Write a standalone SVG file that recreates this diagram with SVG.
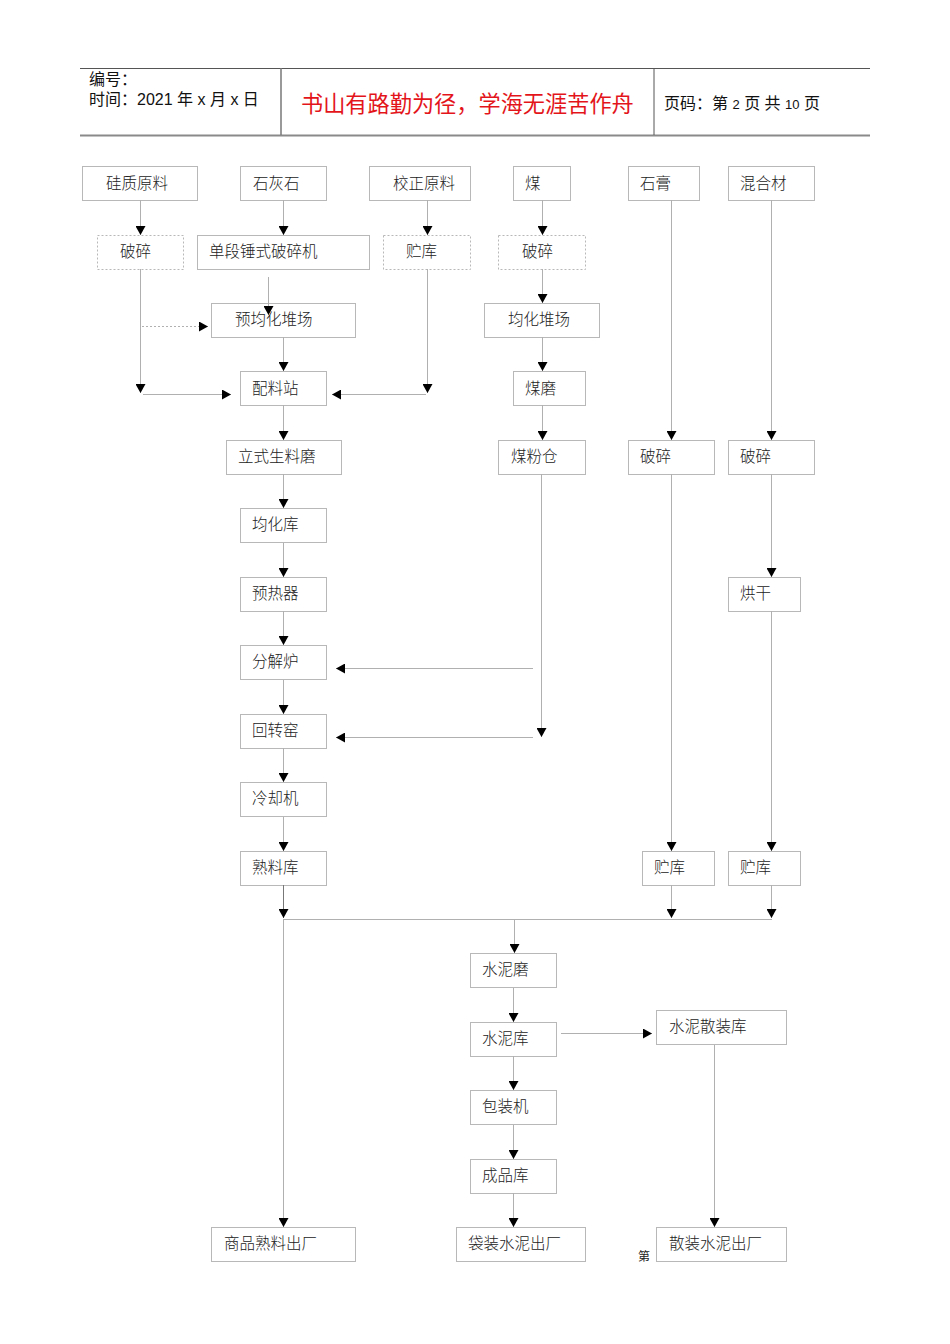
<svg xmlns="http://www.w3.org/2000/svg" width="950" height="1344" viewBox="0 0 950 1344">
<style>
.box{fill:none;stroke:#b8b8b8;stroke-width:1}
.dbox{fill:none;stroke:#b8b8b8;stroke-width:1;stroke-dasharray:2 2}
.lbl{font-family:"Noto Sans CJK SC",sans-serif;font-size:15.5px;font-weight:300;fill:#222}
.ln{stroke:#b0b0b0;stroke-width:1;fill:none}
.dl{stroke:#b0b0b0;stroke-width:1;fill:none;stroke-dasharray:2 2}
.hd{font-family:"Liberation Sans","Noto Sans CJK SC",sans-serif;font-size:16px;fill:#111}
</style>
<defs>
<marker id="ah" viewBox="0 0 9 10" markerWidth="9" markerHeight="10" refX="9" refY="5" orient="auto" markerUnits="userSpaceOnUse">
<path d="M0,0 L9,5 L0,10 z" fill="#000"/>
</marker>
</defs>
<rect width="950" height="1344" fill="#fff"/>
<g id="header">
<line x1="80" y1="68.5" x2="870" y2="68.5" stroke="#555" stroke-width="1"/>
<line x1="80" y1="135.5" x2="870" y2="135.5" stroke="#8a8a8a" stroke-width="2"/>
<line x1="281" y1="68" x2="281" y2="135" stroke="#777" stroke-width="1.5"/>
<line x1="654" y1="68" x2="654" y2="135" stroke="#555" stroke-width="1"/>
<text class="hd" x="89" y="85">编号：</text>
<text class="hd" x="89" y="105">时间：2021 年 x 月 x 日</text>
<text x="301" y="112" font-family="Noto Sans CJK SC,sans-serif" font-size="22.2px" fill="#e3151b">书山有路勤为径，学海无涯苦作舟</text>
<text class="hd" x="664" y="109" font-size="15px">页码：第 <tspan font-size="13px">2</tspan> 页  共 <tspan font-size="13px">10</tspan> 页</text>
</g>
<g id="n1"><rect class="box" x="82.5" y="166.5" width="115" height="34"/><text class="lbl" x="106" y="189">硅质原料</text></g>
<g id="n2"><rect class="box" x="240.5" y="166.5" width="86" height="34"/><text class="lbl" x="253" y="189">石灰石</text></g>
<g id="n3"><rect class="box" x="369.5" y="166.5" width="101" height="34"/><text class="lbl" x="393" y="189">校正原料</text></g>
<g id="n4"><rect class="box" x="513.5" y="166.5" width="57" height="34"/><text class="lbl" x="525" y="189">煤</text></g>
<g id="n5"><rect class="box" x="628.5" y="166.5" width="71" height="34"/><text class="lbl" x="640" y="189">石膏</text></g>
<g id="n6"><rect class="box" x="728.5" y="166.5" width="86" height="34"/><text class="lbl" x="740" y="189">混合材</text></g>
<g id="n7"><rect class="dbox" x="97.5" y="235.5" width="86" height="34"/><text class="lbl" x="120" y="257">破碎</text></g>
<g id="n8"><rect class="box" x="197.5" y="235.5" width="172" height="34"/><text class="lbl" x="209" y="257">单段锤式破碎机</text></g>
<g id="n9"><rect class="dbox" x="383.5" y="235.5" width="87" height="34"/><text class="lbl" x="406" y="257">贮库</text></g>
<g id="n10"><rect class="dbox" x="498.5" y="235.5" width="87" height="34"/><text class="lbl" x="522" y="257">破碎</text></g>
<g id="n11"><rect class="box" x="211.5" y="303.5" width="144" height="34"/><text class="lbl" x="235" y="325">预均化堆场</text></g>
<g id="n12"><rect class="box" x="484.5" y="303.5" width="115" height="34"/><text class="lbl" x="508" y="325">均化堆场</text></g>
<g id="n13"><rect class="box" x="240.5" y="371.5" width="86" height="34"/><text class="lbl" x="252" y="394">配料站</text></g>
<g id="n14"><rect class="box" x="513.5" y="371.5" width="72" height="34"/><text class="lbl" x="525" y="394">煤磨</text></g>
<g id="n15"><rect class="box" x="226.5" y="440.5" width="115" height="34"/><text class="lbl" x="238" y="462">立式生料磨</text></g>
<g id="n16"><rect class="box" x="498.5" y="440.5" width="87" height="34"/><text class="lbl" x="511" y="462">煤粉仓</text></g>
<g id="n17"><rect class="box" x="628.5" y="440.5" width="86" height="34"/><text class="lbl" x="640" y="462">破碎</text></g>
<g id="n18"><rect class="box" x="728.5" y="440.5" width="86" height="34"/><text class="lbl" x="740" y="462">破碎</text></g>
<g id="n19"><rect class="box" x="240.5" y="508.5" width="86" height="34"/><text class="lbl" x="252" y="530">均化库</text></g>
<g id="n20"><rect class="box" x="240.5" y="577.5" width="86" height="34"/><text class="lbl" x="252" y="599">预热器</text></g>
<g id="n21"><rect class="box" x="728.5" y="577.5" width="72" height="34"/><text class="lbl" x="740" y="599">烘干</text></g>
<g id="n22"><rect class="box" x="240.5" y="645.5" width="86" height="34"/><text class="lbl" x="252" y="667">分解炉</text></g>
<g id="n23"><rect class="box" x="240.5" y="714.5" width="86" height="34"/><text class="lbl" x="252" y="736">回转窑</text></g>
<g id="n24"><rect class="box" x="240.5" y="782.5" width="86" height="34"/><text class="lbl" x="252" y="804">冷却机</text></g>
<g id="n25"><rect class="box" x="240.5" y="851.5" width="86" height="34"/><text class="lbl" x="252" y="873">熟料库</text></g>
<g id="n26"><rect class="box" x="642.5" y="851.5" width="72" height="34"/><text class="lbl" x="654" y="873">贮库</text></g>
<g id="n27"><rect class="box" x="728.5" y="851.5" width="72" height="34"/><text class="lbl" x="740" y="873">贮库</text></g>
<g id="n28"><rect class="box" x="470.5" y="953.5" width="86" height="34"/><text class="lbl" x="482" y="975">水泥磨</text></g>
<g id="n29"><rect class="box" x="470.5" y="1022.5" width="86" height="34"/><text class="lbl" x="482" y="1044">水泥库</text></g>
<g id="n30"><rect class="box" x="656.5" y="1010.5" width="130" height="34"/><text class="lbl" x="669" y="1032">水泥散装库</text></g>
<g id="n31"><rect class="box" x="470.5" y="1090.5" width="86" height="34"/><text class="lbl" x="482" y="1112">包装机</text></g>
<g id="n32"><rect class="box" x="470.5" y="1159.5" width="86" height="34"/><text class="lbl" x="482" y="1181">成品库</text></g>
<g id="n33"><rect class="box" x="211.5" y="1227.5" width="144" height="34"/><text class="lbl" x="224" y="1249">商品熟料出厂</text></g>
<g id="n34"><rect class="box" x="456.5" y="1227.5" width="129" height="34"/><text class="lbl" x="468" y="1249">袋装水泥出厂</text></g>
<g id="n35"><rect class="box" x="656.5" y="1227.5" width="130" height="34"/><text class="lbl" x="669" y="1249">散装水泥出厂</text></g>
<g id="connectors">
<line class="ln" x1="140.5" y1="200" x2="140.5" y2="235" marker-end="url(#ah)"/>
<line class="ln" x1="283.5" y1="200" x2="283.5" y2="235" marker-end="url(#ah)"/>
<line class="ln" x1="427.5" y1="200" x2="427.5" y2="235" marker-end="url(#ah)"/>
<line class="ln" x1="542.5" y1="200" x2="542.5" y2="235" marker-end="url(#ah)"/>
<line class="ln" x1="542.5" y1="269" x2="542.5" y2="303" marker-end="url(#ah)"/>
<line class="ln" x1="542.5" y1="337" x2="542.5" y2="371" marker-end="url(#ah)"/>
<line class="ln" x1="542.5" y1="405" x2="542.5" y2="440" marker-end="url(#ah)"/>
<line class="ln" x1="268.5" y1="277" x2="268.5" y2="315" marker-end="url(#ah)"/>
<line class="dl" x1="142" y1="326.5" x2="208" y2="326.5" marker-end="url(#ah)"/>
<line class="ln" x1="140.5" y1="269" x2="140.5" y2="393" marker-end="url(#ah)"/>
<line class="ln" x1="143" y1="394.5" x2="231" y2="394.5" marker-end="url(#ah)"/>
<line class="ln" x1="283.5" y1="337" x2="283.5" y2="371" marker-end="url(#ah)"/>
<line class="ln" x1="427.5" y1="269" x2="427.5" y2="393" marker-end="url(#ah)"/>
<line class="ln" x1="426" y1="394.5" x2="332" y2="394.5" marker-end="url(#ah)"/>
<line class="ln" x1="283.5" y1="405" x2="283.5" y2="440" marker-end="url(#ah)"/>
<line class="ln" x1="283.5" y1="474" x2="283.5" y2="508" marker-end="url(#ah)"/>
<line class="ln" x1="283.5" y1="543" x2="283.5" y2="577" marker-end="url(#ah)"/>
<line class="ln" x1="283.5" y1="611" x2="283.5" y2="645" marker-end="url(#ah)"/>
<line class="ln" x1="283.5" y1="680" x2="283.5" y2="714" marker-end="url(#ah)"/>
<line class="ln" x1="283.5" y1="748" x2="283.5" y2="782" marker-end="url(#ah)"/>
<line class="ln" x1="283.5" y1="817" x2="283.5" y2="851" marker-end="url(#ah)"/>
<line class="ln" x1="541.5" y1="474" x2="541.5" y2="737" marker-end="url(#ah)"/>
<line class="ln" x1="533" y1="668.5" x2="336" y2="668.5" marker-end="url(#ah)"/>
<line class="ln" x1="533" y1="737.5" x2="336" y2="737.5" marker-end="url(#ah)"/>
<line class="ln" x1="671.5" y1="200" x2="671.5" y2="440" marker-end="url(#ah)"/>
<line class="ln" x1="771.5" y1="200" x2="771.5" y2="440" marker-end="url(#ah)"/>
<line class="ln" x1="671.5" y1="474" x2="671.5" y2="851" marker-end="url(#ah)"/>
<line class="ln" x1="771.5" y1="474" x2="771.5" y2="577" marker-end="url(#ah)"/>
<line class="ln" x1="771.5" y1="611" x2="771.5" y2="851" marker-end="url(#ah)"/>
<line x1="283.5" y1="885" x2="283.5" y2="918" stroke="#777" stroke-width="1" marker-end="url(#ah)"/>
<line class="ln" x1="671.5" y1="885" x2="671.5" y2="918" marker-end="url(#ah)"/>
<line class="ln" x1="771.5" y1="885" x2="771.5" y2="918" marker-end="url(#ah)"/>
<line class="ln" x1="283" y1="919.5" x2="772" y2="919.5"/>
<line class="ln" x1="283.5" y1="919" x2="283.5" y2="1227" marker-end="url(#ah)"/>
<line class="ln" x1="514.5" y1="919" x2="514.5" y2="953" marker-end="url(#ah)"/>
<line class="ln" x1="513.5" y1="988" x2="513.5" y2="1022" marker-end="url(#ah)"/>
<line class="ln" x1="561" y1="1033.5" x2="652" y2="1033.5" marker-end="url(#ah)"/>
<line class="ln" x1="513.5" y1="1056" x2="513.5" y2="1090" marker-end="url(#ah)"/>
<line class="ln" x1="513.5" y1="1125" x2="513.5" y2="1159" marker-end="url(#ah)"/>
<line class="ln" x1="513.5" y1="1193" x2="513.5" y2="1227" marker-end="url(#ah)"/>
<line class="ln" x1="714.5" y1="1045" x2="714.5" y2="1227" marker-end="url(#ah)"/>
</g>
<text x="638" y="1261" font-family="Noto Sans CJK SC,sans-serif" font-size="12px" fill="#222">第</text>
</svg>
